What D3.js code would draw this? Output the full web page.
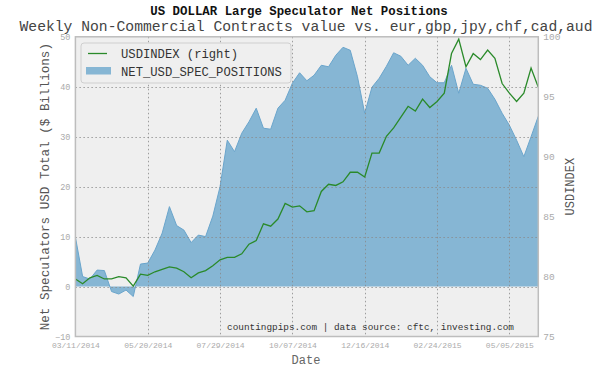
<!DOCTYPE html>
<html>
<head>
<meta charset="utf-8">
<script src="https://cdn.jsdelivr.net/npm/d3@7"></script>
<style>
  body { margin: 0; background: #fff; }
  svg { display: block; }
</style>
</head>
<body>
<svg id="chart" width="598" height="374"></svg>
<script>
// weekly COT report dates (Tuesdays), 03/11/2014 .. 06/02/2015
const firstDate = new Date(2014, 2, 11)
const lastDate = new Date(2015, 5, 2)
const dates = d3.timeTuesday.range(firstDate, d3.timeDay.offset(lastDate, 1))

// net speculator positions, $ billions
const netPositions = [
  9.9, 2.0, 1.5, 3.3, 3.2, -1.0, -1.5, -0.7, -2.0, 4.5,
  4.7, 7.3, 10.7, 16.0, 12.2, 11.3, 8.8, 10.3, 10.0, 14.1,
  20.0, 29.3, 27.0, 30.7, 33.0, 35.7, 31.7, 31.5, 35.7, 37.3,
  40.7, 42.8, 41.2, 42.3, 44.3, 44.0, 46.3, 47.9, 47.3, 42.0,
  34.7, 39.9, 41.7, 44.1, 46.8, 46.1, 44.3, 45.7, 44.3, 42.0,
  40.8, 40.8, 44.3, 38.7, 43.7, 40.5, 40.3, 39.7, 37.5, 34.7,
  32.3, 29.3, 26.0, 30.0, 34.1
]

// US dollar index (right axis)
const usdIndex = [
  79.8, 79.4, 79.9, 80.1, 79.8, 79.8, 80.0, 79.9, 79.2, 80.2,
  80.1, 80.4, 80.6, 80.8, 80.7, 80.4, 79.9, 80.3, 80.5, 80.9,
  81.4, 81.6, 81.6, 81.9, 82.7, 83.0, 84.4, 84.2, 84.8, 86.1,
  85.8, 85.9, 85.4, 85.5, 87.1, 87.7, 87.6, 87.9, 88.7, 88.7,
  88.3, 90.3, 90.3, 91.7, 92.4, 93.3, 94.2, 93.8, 94.8, 94.1,
  94.6, 95.3, 98.6, 99.8, 97.5, 98.6, 98.1, 98.9, 98.2, 96.1,
  95.3, 94.6, 95.3, 97.4, 95.8
]

const leftTicks = [-10, 0, 10, 20, 30, 40, 50]
const rightTicks = [75, 80, 85, 90, 95, 100]
const xTickIndex = [0, 10, 20, 30, 40, 50, 60]

const mono = '"Liberation Mono", "DejaVu Sans Mono", monospace'
const plot = { left: 75.4, right: 538.3, top: 36.8, bottom: 336.5 }

const svg = d3.select('#chart')

const x = d3.scaleTime()
  .domain([dates[0], dates[dates.length - 1]])
  .range([plot.left, plot.right])
const y = d3.scaleLinear().domain([-10, 50]).range([plot.bottom, plot.top])
const y2 = d3.scaleLinear().domain([75, 100]).range([plot.bottom, plot.top])

const rows = dates.map((d, i) => ({ date: d, net: netPositions[i], usd: usdIndex[i] }))

// plot background
svg.append('rect')
  .attr('x', plot.left).attr('y', plot.top)
  .attr('width', plot.right - plot.left).attr('height', plot.bottom - plot.top)
  .attr('fill', '#efefef')

// net positions area
const area = d3.area()
  .x(d => x(d.date))
  .y0(y(0))
  .y1(d => y(d.net))
svg.append('path')
  .datum(rows)
  .attr('d', area)
  .attr('fill', '#86b6d4')
svg.append('path')
  .datum(rows)
  .attr('d', d3.line().x(d => x(d.date)).y(d => y(d.net)))
  .attr('fill', 'none')
  .attr('stroke', '#6aa5cc')
  .attr('stroke-width', 1)

// grid, drawn over the area like the reference
const grid = svg.append('g')
  .attr('stroke', '#888').attr('stroke-opacity', 0.8)
  .attr('stroke-width', 1).attr('stroke-dasharray', '1.5,2.5')
grid.selectAll('line.h')
  .data(leftTicks.filter(t => t > -10 && t < 50))
  .join('line')
    .attr('x1', plot.left).attr('x2', plot.right)
    .attr('y1', d => Math.round(y(d)) + 0.5).attr('y2', d => Math.round(y(d)) + 0.5)
grid.selectAll('line.v')
  .data(xTickIndex.slice(1))
  .join('line')
    .attr('y1', plot.top).attr('y2', plot.bottom)
    .attr('x1', i => Math.round(x(dates[i])) + 0.5).attr('x2', i => Math.round(x(dates[i])) + 0.5)

// usd index line
svg.append('path')
  .datum(rows)
  .attr('d', d3.line().x(d => x(d.date)).y(d => y2(d.usd)))
  .attr('fill', 'none')
  .attr('stroke', '#2a8a2a')
  .attr('stroke-width', 1.3)

// frame
svg.append('rect')
  .attr('x', plot.left).attr('y', plot.top)
  .attr('width', plot.right - plot.left).attr('height', plot.bottom - plot.top)
  .attr('fill', 'none').attr('stroke', '#bdbdbd').attr('stroke-width', 1.5)

// axes
const fmt = d3.timeFormat('%m/%d/%Y')
const xAxis = svg.append('g')
  .attr('transform', `translate(0,${plot.bottom})`)
  .call(d3.axisBottom(x).tickValues(xTickIndex.map(i => dates[i])).tickFormat(fmt).tickSize(0).tickPadding(6))
const yAxis = svg.append('g')
  .attr('transform', `translate(${plot.left},0)`)
  .call(d3.axisLeft(y).tickValues(leftTicks).tickSize(0).tickPadding(5))
const y2Axis = svg.append('g')
  .attr('transform', `translate(${plot.right},0)`)
  .call(d3.axisRight(y2).tickValues(rightTicks).tickSize(0).tickPadding(5))

for (const ax of [xAxis, yAxis, y2Axis]) {
  ax.select('.domain').remove()
  ax.selectAll('text').attr('fill', '#aaa').attr('font-family', mono)
}
xAxis.selectAll('text').attr('font-size', 8)
yAxis.selectAll('text').attr('font-size', 8.5)
y2Axis.selectAll('text').attr('font-size', 9.5)

// titles
svg.append('text')
  .attr('x', 299).attr('y', 15)
  .attr('text-anchor', 'middle')
  .attr('font-family', mono).attr('font-size', 12.4).attr('font-weight', 'bold')
  .attr('fill', '#111')
  .text('US DOLLAR Large Speculator Net Positions')
svg.append('text')
  .attr('x', 306).attr('y', 31)
  .attr('text-anchor', 'middle')
  .attr('font-family', mono).attr('font-size', 14.7)
  .attr('fill', '#444')
  .text('Weekly Non-Commercial Contracts value vs. eur,gbp,jpy,chf,cad,aud')

svg.append('text')
  .attr('transform', `translate(49,${(plot.top + plot.bottom) / 2}) rotate(-90)`)
  .attr('text-anchor', 'middle')
  .attr('font-family', mono).attr('font-size', 12.6)
  .attr('fill', '#555')
  .text('Net Speculators USD Total ($ Billions)')
svg.append('text')
  .attr('transform', `translate(574,${(plot.top + plot.bottom) / 2}) rotate(-90)`)
  .attr('text-anchor', 'middle')
  .attr('font-family', mono).attr('font-size', 12)
  .attr('fill', '#555')
  .text('USDINDEX')
svg.append('text')
  .attr('x', 306).attr('y', 364)
  .attr('text-anchor', 'middle')
  .attr('font-family', mono).attr('font-size', 12)
  .attr('fill', '#666')
  .text('Date')

svg.append('text')
  .attr('x', 514).attr('y', 330)
  .attr('text-anchor', 'end')
  .attr('font-family', mono).attr('font-size', 9.4)
  .attr('fill', '#333')
  .text('countingpips.com | data source: cftc, investing.com')

// legend
const legend = svg.append('g')
legend.append('rect')
  .attr('x', 81).attr('y', 43).attr('width', 210).attr('height', 40)
  .attr('rx', 3)
  .attr('fill', '#efefef').attr('stroke', '#cfcfcf').attr('stroke-width', 1)
legend.append('line')
  .attr('x1', 88).attr('x2', 107).attr('y1', 53.5).attr('y2', 53.5)
  .attr('stroke', '#2a8a2a').attr('stroke-width', 1.3)
legend.append('rect')
  .attr('x', 86).attr('y', 67).attr('width', 25).attr('height', 7.5)
  .attr('fill', '#86b6d4')
legend.selectAll('text')
  .data(['USDINDEX (right)', 'NET_USD_SPEC_POSITIONS'])
  .join('text')
    .attr('x', 121).attr('y', (d, i) => 57.5 + i * 18)
    .attr('font-family', mono).attr('font-size', 12.2)
    .attr('fill', '#333')
    .text(d => d)
</script>
</body>
</html>
